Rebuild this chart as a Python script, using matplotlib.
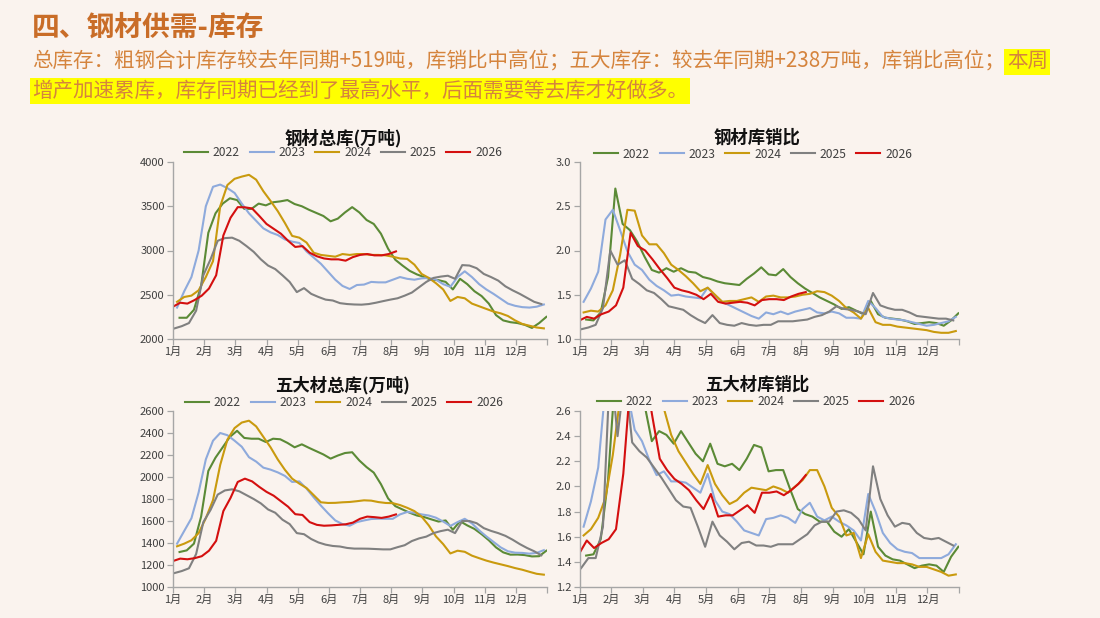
import numpy as np
import matplotlib
matplotlib.use("Agg")
import matplotlib.pyplot as plt

plt.rcParams['font.family'] = ['Noto Sans CJK SC', 'DejaVu Sans']

# ---------------- data ----------------
years = ["2022", "2023", "2024", "2025", "2026"]
colors = ["#5B8A36", "#8EAADC", "#C99A0E", "#808080", "#D40F0F"]
# month-position of the first weekly observation of each year (1月 = 0)
first_week = [0.21, 0.13, 0.13, 0.05, 0.0]
week_step = 12 / 52
month_labels = ["1月", "2月", "3月", "4月", "5月", "6月", "7月", "8月", "9月", "10月", "11月", "12月"]

steel_inv_2022 = [2240,2240,2330,2600,3200,3420,3530,3590,3570,3470, 3470,3530,3510,3545,3555,3570,3525,3500,3460,3425,
                  3390,3330,3360,3430,3490,3430,3345,3300,3190,3020, 2895,2830,2770,2730,2700,2670,2665,2645,2560,2680,
                  2620,2540,2485,2400,2270,2210,2190,2180,2160,2125, 2180,2250]
steel_inv_2023 = [2355,2540,2700,3000,3500,3720,3745,3705,3650,3530, 3420,3335,3250,3205,3175,3125,3100,3085,2990,2920,
                  2850,2760,2670,2600,2565,2610,2615,2645,2640,2640, 2670,2700,2680,2670,2685,2690,2670,2620,2590,2700,
                  2765,2700,2620,2560,2510,2455,2400,2375,2360,2355, 2365,2390]
steel_inv_2024 = [2420,2475,2490,2550,2700,2880,3500,3740,3810,3835, 3855,3800,3670,3560,3445,3310,3165,3145,3090,2975,
                  2950,2940,2930,2960,2950,2960,2960,2950,2950,2945, 2930,2910,2905,2840,2735,2690,2630,2560,2430,2475,
                  2460,2400,2370,2340,2310,2290,2260,2210,2170,2150, 2130,2120]
steel_inv_2025 = [2120,2145,2180,2320,2720,2900,3110,3140,3145,3110, 3050,2985,2900,2830,2790,2720,2645,2530,2575,2510,
                  2475,2445,2435,2405,2395,2390,2388,2395,2410,2428, 2445,2460,2490,2525,2585,2645,2690,2705,2715,2680,
                  2835,2830,2800,2735,2700,2660,2595,2550,2510,2465, 2420,2395]
steel_inv_2026 = [2365,2410,2400,2440,2490,2570,2720,3170,3370,3490, 3488,3475,3390,3300,3245,3190,3110,3040,3050,2975,
                  2935,2910,2900,2900,2885,2925,2950,2960,2945,2945, 2960,2990]

steel_ratio_2022 = [1.22,1.21,1.30,1.70,2.70,2.30,2.23,2.10,1.93,1.78, 1.75,1.80,1.76,1.80,1.76,1.75,1.70,1.68,1.65,1.63,
                    1.62,1.61,1.68,1.74,1.81,1.73,1.72,1.79,1.70,1.63, 1.57,1.52,1.47,1.43,1.39,1.34,1.36,1.32,1.28,1.43,
                    1.28,1.24,1.23,1.22,1.20,1.17,1.18,1.19,1.18,1.15, 1.21,1.29]
steel_ratio_2023 = [1.42,1.57,1.76,2.35,2.46,2.23,1.99,1.84,1.78,1.67, 1.60,1.55,1.49,1.50,1.48,1.47,1.46,1.58,1.49,1.42,
                    1.38,1.34,1.30,1.26,1.23,1.30,1.28,1.31,1.28,1.31, 1.33,1.35,1.30,1.29,1.31,1.29,1.24,1.24,1.23,1.43,
                    1.35,1.25,1.23,1.22,1.21,1.19,1.17,1.15,1.16,1.18, 1.20,1.25]
steel_ratio_2024 = [1.30,1.32,1.31,1.38,1.55,1.95,2.46,2.45,2.17,2.07, 2.07,1.97,1.84,1.78,1.71,1.63,1.54,1.58,1.50,1.42,
                    1.43,1.43,1.45,1.47,1.42,1.48,1.49,1.47,1.47,1.48, 1.50,1.51,1.54,1.53,1.49,1.43,1.35,1.30,1.23,1.35,
                    1.19,1.16,1.16,1.14,1.13,1.12,1.11,1.10,1.08,1.07, 1.07,1.09]
steel_ratio_2025 = [1.11,1.13,1.16,1.35,2.00,1.84,1.89,1.68,1.62,1.55, 1.52,1.45,1.37,1.35,1.33,1.27,1.22,1.18,1.27,1.18,
                    1.16,1.15,1.18,1.16,1.15,1.16,1.16,1.20,1.20,1.20, 1.21,1.22,1.25,1.27,1.31,1.37,1.34,1.33,1.31,1.28,
                    1.52,1.38,1.35,1.33,1.33,1.30,1.26,1.25,1.24,1.23, 1.23,1.21]
steel_ratio_2026 = [1.21,1.25,1.23,1.28,1.31,1.38,1.58,2.20,2.05,2.00, 1.90,1.79,1.69,1.58,1.55,1.53,1.50,1.45,1.51,1.42,
                    1.40,1.41,1.42,1.41,1.38,1.44,1.45,1.45,1.44,1.48, 1.51,1.53]

five_inv_2022 = [1318,1333,1394,1640,2055,2176,2270,2365,2420,2355, 2348,2348,2318,2348,2343,2310,2270,2297,2265,2235,
                 2205,2167,2195,2218,2225,2150,2090,2040,1935,1805, 1735,1705,1675,1650,1636,1615,1595,1605,1520,1598,
                 1560,1528,1480,1425,1360,1315,1294,1295,1290,1278, 1280,1330]
five_inv_2023 = [1394,1510,1625,1860,2160,2330,2400,2380,2330,2275, 2180,2140,2085,2067,2042,2010,1955,1960,1895,1815,
                 1740,1670,1605,1572,1557,1590,1605,1618,1621,1620, 1620,1660,1682,1675,1660,1650,1630,1595,1555,1590,
                 1620,1578,1515,1460,1410,1360,1325,1312,1310,1303, 1310,1335]
five_inv_2024 = [1370,1394,1425,1490,1625,1790,2110,2340,2445,2495, 2512,2460,2365,2270,2160,2065,1985,1940,1900,1835,
                 1770,1764,1765,1770,1773,1780,1788,1785,1772,1764, 1762,1745,1720,1690,1640,1560,1460,1390,1305,1330,
                 1320,1285,1262,1240,1222,1206,1190,1172,1157,1138, 1120,1112]
five_inv_2025 = [1127,1145,1170,1300,1590,1700,1840,1878,1888,1870, 1835,1800,1760,1705,1675,1612,1572,1490,1480,1436,
                 1405,1385,1373,1368,1355,1349,1349,1348,1345,1342, 1342,1362,1380,1418,1442,1458,1490,1508,1521,1490,
                 1600,1600,1580,1535,1510,1490,1465,1430,1390,1355, 1325,1288]
five_inv_2026 = [1236,1258,1252,1262,1280,1330,1420,1690,1810,1955, 1985,1960,1910,1865,1830,1780,1730,1662,1655,1590,
                 1565,1557,1560,1565,1570,1585,1620,1640,1635,1628, 1640,1660]

five_ratio_2022 = [1.45,1.46,1.58,2.05,2.90,3.20,3.10,2.90,2.65,2.36, 2.44,2.41,2.34,2.44,2.35,2.26,2.20,2.34,2.18,2.16,
                   2.18,2.13,2.22,2.33,2.31,2.12,2.13,2.13,1.97,1.82, 1.78,1.76,1.72,1.72,1.64,1.60,1.66,1.56,1.46,1.80,
                   1.52,1.45,1.42,1.41,1.38,1.35,1.37,1.38,1.37,1.32, 1.44,1.52]
five_ratio_2023 = [1.68,1.88,2.15,2.80,3.20,3.10,2.75,2.45,2.36,2.21, 2.09,2.12,2.04,2.04,2.03,1.99,1.95,2.10,1.89,1.80,
                   1.78,1.72,1.65,1.63,1.61,1.74,1.75,1.77,1.75,1.71, 1.82,1.87,1.76,1.73,1.76,1.72,1.69,1.65,1.57,1.94,
                   1.80,1.63,1.55,1.50,1.48,1.47,1.43,1.43,1.43,1.43, 1.46,1.54]
five_ratio_2024 = [1.61,1.66,1.75,1.91,2.25,2.70,3.10,3.30,3.20,3.00, 2.80,2.62,2.41,2.28,2.19,2.10,2.02,2.17,2.02,1.93,
                   1.86,1.89,1.95,1.99,1.98,1.97,2.00,1.98,1.95,2.00, 2.05,2.13,2.13,2.00,1.83,1.76,1.61,1.63,1.43,1.62,
                   1.48,1.41,1.40,1.39,1.39,1.38,1.36,1.36,1.34,1.32, 1.29,1.30]
five_ratio_2025 = [1.35,1.43,1.43,1.68,3.00,2.40,2.90,2.35,2.28,2.23, 2.15,2.07,1.98,1.89,1.84,1.83,1.68,1.52,1.72,1.61,
                   1.56,1.50,1.55,1.56,1.53,1.53,1.52,1.54,1.54,1.54, 1.58,1.62,1.69,1.72,1.72,1.80,1.81,1.79,1.74,1.65,
                   2.16,1.90,1.77,1.68,1.71,1.70,1.63,1.59,1.58,1.59, 1.56,1.53]
five_ratio_2026 = [1.47,1.57,1.51,1.55,1.58,1.66,2.10,2.85,3.10,2.90, 2.55,2.22,2.13,2.06,2.02,1.97,1.89,1.82,1.94,1.76,
                   1.77,1.77,1.81,1.85,1.79,1.95,1.95,1.96,1.93,1.97, 2.02,2.09]

header = "四、钢材供需-库存"
line1_plain = "总库存：粗钢合计库存较去年同期+519吨，库销比中高位；五大库存：较去年同期+238万吨，库销比高位；"
line1_mark = "本周"
line2_mark = "增产加速累库，库存同期已经到了最高水平，后面需要等去库才好做多。"

charts = [
    dict(title="钢材总库(万吨)", series=[steel_inv_2022, steel_inv_2023, steel_inv_2024, steel_inv_2025, steel_inv_2026],
         ylim=(2000, 4000), yticks=[2000, 2500, 3000, 3500, 4000], fmt="{:.0f}"),
    dict(title="钢材库销比", series=[steel_ratio_2022, steel_ratio_2023, steel_ratio_2024, steel_ratio_2025, steel_ratio_2026],
         ylim=(1.0, 3.0), yticks=[1.0, 1.5, 2.0, 2.5, 3.0], fmt="{:.1f}"),
    dict(title="五大材总库(万吨)", series=[five_inv_2022, five_inv_2023, five_inv_2024, five_inv_2025, five_inv_2026],
         ylim=(1000, 2600), yticks=[1000, 1200, 1400, 1600, 1800, 2000, 2200, 2400, 2600], fmt="{:.0f}"),
    dict(title="五大材库销比", series=[five_ratio_2022, five_ratio_2023, five_ratio_2024, five_ratio_2025, five_ratio_2026],
         ylim=(1.2, 2.6), yticks=[1.2, 1.4, 1.6, 1.8, 2.0, 2.2, 2.4, 2.6], fmt="{:.1f}"),
]

# ---------------- layout ----------------
W, H = 1100, 618
BG = "#FAF3EE"
fig = plt.figure(figsize=(W / 100, H / 100), dpi=100, facecolor=BG)

def fx(px):
    return px / W

def fy(py):
    return 1 - py / H

# axes boxes in pixels: left, top, right, bottom
boxes = [(173, 162, 547, 339), (579.5, 162, 959, 339),
         (173, 411, 547, 587), (579.5, 411, 959, 587)]
title_pos = [(343, 138), (757, 138), (343, 385), (757, 385)]
legend_pos = [(343, 153), (753, 154), (344, 402.5), (756, 401.5)]

txt_col = "#404040"
axis_col = "#A6A6A6"

for c, (l, t, r, b), tp, lp in zip(charts, boxes, title_pos, legend_pos):
    ax = fig.add_axes([fx(l), fy(b), fx(r - l), (b - t) / H])
    ax.set_facecolor(BG)
    handles = []
    for yr, col, x0, vals in zip(years, colors, first_week, c["series"]):
        xs = x0 + np.arange(len(vals)) * week_step
        h, = ax.plot(xs, vals, color=col, lw=1.5, label=yr, solid_joinstyle="round")
        handles.append(h)
    ax.set_xlim(0, 12)
    ax.set_ylim(*c["ylim"])
    ax.set_xticks(range(13))
    ax.set_xticklabels(month_labels + [""])
    ax.set_yticks(c["yticks"])
    ax.set_yticklabels([c["fmt"].format(v) for v in c["yticks"]])
    for s in ("top", "right"):
        ax.spines[s].set_visible(False)
    for s in ("left", "bottom"):
        ax.spines[s].set_color(axis_col)
        ax.spines[s].set_linewidth(1.0)
    ax.tick_params(axis="both", direction="out", length=4, width=0.9, color=axis_col,
                   labelsize=8, labelcolor=txt_col, pad=2)
    fig.text(fx(tp[0]), fy(tp[1]), c["title"], ha="center", va="center",
             fontsize=12.5, fontweight="bold", color="#111111")
    fig.legend(handles=handles, loc="center", bbox_to_anchor=(fx(lp[0]), fy(lp[1])),
               bbox_transform=fig.transFigure, ncol=5, frameon=False, fontsize=8.7,
               handlelength=2.0, handletextpad=0.4, columnspacing=0.8, borderpad=0.0,
               labelcolor=txt_col)

# ---------------- header texts ----------------
fig.text(fx(32), fy(27.5), header, ha="left", va="center", fontsize=20,
         fontweight="bold", color="#C96D28")
sub_col = "#D5843D"
sub_fs = 14.8
t1 = fig.text(fx(32), fy(62), line1_plain, ha="left", va="center", fontsize=sub_fs, color=sub_col)
fig.canvas.draw()
ext = t1.get_window_extent(renderer=fig.canvas.get_renderer())
fig.text(ext.x1 / W + 0.002, fy(62), line1_mark, ha="left", va="center", fontsize=sub_fs, color=sub_col,
         bbox=dict(boxstyle="square,pad=0.12", facecolor="#FFFF00", edgecolor="none"))
fig.text(fx(32), fy(91), line2_mark, ha="left", va="center", fontsize=sub_fs, color=sub_col,
         bbox=dict(boxstyle="square,pad=0.12", facecolor="#FFFF00", edgecolor="none"))

fig.savefig("out.png", dpi=100, facecolor=BG)
